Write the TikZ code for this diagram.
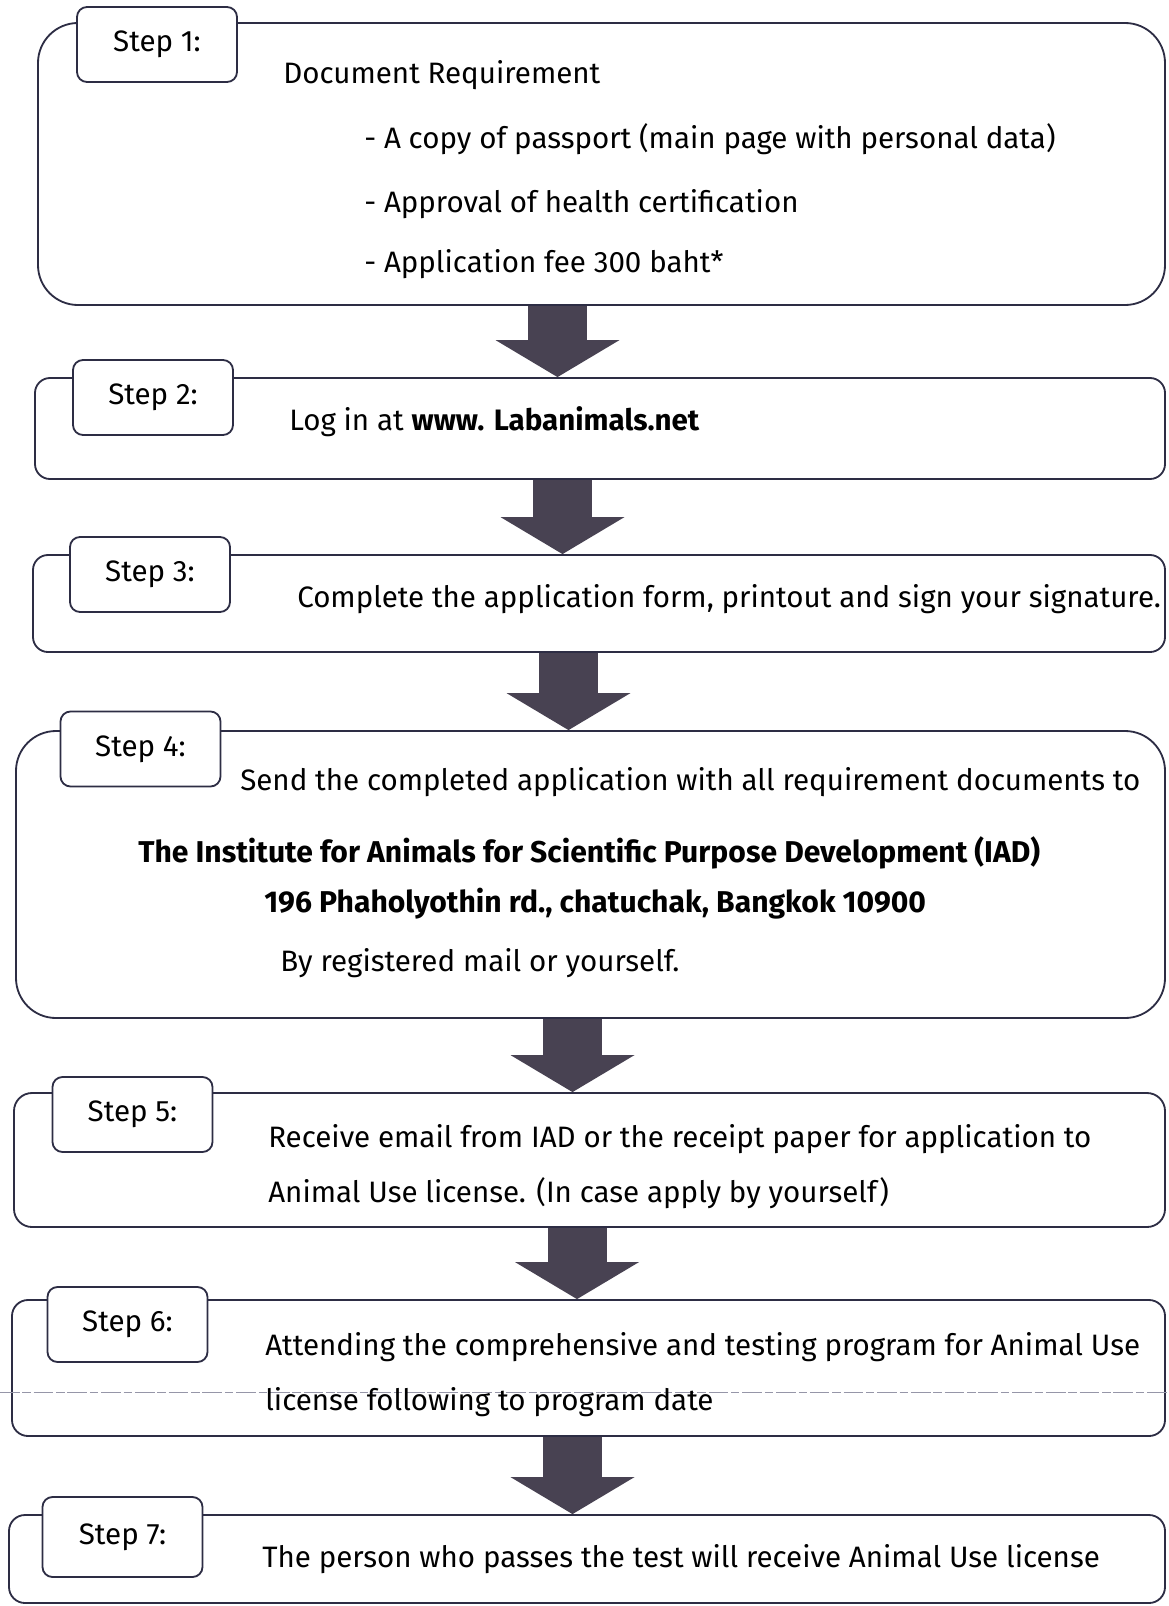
\documentclass[tikz,border=0pt]{standalone}
\usepackage{fontspec}
\setmainfont{Fira Sans}
\usepackage{xcolor}
\usetikzlibrary{arrows.meta}
\definecolor{outline}{RGB}{45,45,68}
\definecolor{flowfill}{RGB}{72,66,82}
\definecolor{foldline}{RGB}{150,150,168}
\newcommand{\flowfont}{\fontsize{21}{25}\selectfont}
\tikzstyle{panel}=[draw=outline, line width=1.3pt, inner sep=0pt]
\tikzstyle{tag}=[draw=outline, line width=1.3pt, fill=white, rounded corners=0.25cm, minimum width=4cm, minimum height=1.875cm, font=\flowfont]
\tikzset{body/.style={anchor=base west, inner sep=0pt, font=\flowfont}}
\tikzset{bodybold/.style={body, font=\fontsize{21.4}{25}\selectfont\bfseries}}
\tikzset{flow/.style={draw=flowfill, line width=1.475cm, -{Triangle[length=0.925cm, width=3.1cm, line width=0pt, fill=flowfill]}}}

\begin{document}
\begin{tikzpicture}
  \useasboundingbox (0,0) rectangle (29.2,-40.15);
  %% Panels
  \draw (15.0375,-4.1) node[panel,rounded corners=1cm,minimum width=28.175cm,minimum height=7.05cm] (b1) {};
  \draw (15.0,-10.7125) node[panel,rounded corners=0.375cm,minimum width=28.25cm,minimum height=2.525cm] (b2) {};
  \draw (14.975,-15.0875) node[panel,rounded corners=0.375cm,minimum width=28.3cm,minimum height=2.425cm] (b3) {};
  \draw (14.7625,-21.8625) node[panel,rounded corners=1cm,minimum width=28.725cm,minimum height=7.175cm] (b4) {};
  \draw (14.7375,-29.0) node[panel,rounded corners=0.45cm,minimum width=28.775cm,minimum height=3.35cm] (b5) {};
  \draw (14.7125,-34.2) node[panel,rounded corners=0.4cm,minimum width=28.825cm,minimum height=3.4cm] (b6) {};
  \draw (14.675,-38.975) node[panel,rounded corners=0.4cm,minimum width=28.9cm,minimum height=2.2cm] (b7) {};

  %% Fold mark across step 6
  \draw[foldline, line width=0.6pt, dash pattern=on 14pt off 2pt on 6pt off 2pt] (0,-34.8) -- (29.2,-34.8);

  %% Step tags
  \draw (3.925,-1.1125) node[tag] (s1) {Step 1:};
  \draw (3.825,-9.9375) node[tag] (s2) {Step 2:};
  \draw (3.75,-14.3625) node[tag] (s3) {Step 3:};
  \draw (3.5125,-18.725) node[tag] (s4) {Step 4:};
  \draw (3.3125,-27.8625) node[tag] (s5) {Step 5:};
  \draw (3.1875,-33.1125) node[tag] (s6) {Step 6:};
  \draw (3.0625,-38.425) node[tag,minimum height=2cm] (s7) {Step 7:};

  %% Texts
  \draw (7.075,-2.075) node[body] (t11) {Document Requirement};
  \draw (9.1,-3.7) node[body] (t12) {- A copy of passport (main page with personal data)};
  \draw (9.1,-5.3) node[body] (t13) {- Approval of health certification};
  \draw (9.1,-6.8) node[body] (t14) {- Application fee 300 baht*};
  \draw (7.225,-10.75) node[body] (t2) {Log in at \textbf{www. Labanimals.net}};
  \draw (7.425,-15.175) node[body] (t3) {Complete the application form, printout and sign your signature.};
  \draw (6.0,-19.75) node[body] (t41) {Send the completed application with all requirement documents to};
  \draw (3.45,-21.55) node[bodybold] (t42) {The Institute for Animals for Scientific Purpose Development (IAD)};
  \draw (6.6,-22.8) node[bodybold] (t43) {196 Phaholyothin rd., chatuchak, Bangkok 10900};
  \draw (7.0,-24.275) node[body] (t44) {By registered mail or yourself.};
  \draw (6.7,-28.675) node[body] (t51) {Receive email from IAD or the receipt paper for application to};
  \draw (6.7,-30.05) node[body] (t52) {Animal Use license. (In case apply by yourself)};
  \draw (6.625,-33.875) node[body] (t61) {Attending the comprehensive and testing program for Animal Use};
  \draw (6.625,-35.25) node[body] (t62) {license following to program date};
  \draw (6.55,-39.175) node[body] (t7) {The person who passes the test will receive Animal Use license};

  %% Arrows between steps
  \coordinate (f1) at ([xshift=-1.1cm]b1.south);
  \coordinate (f2) at ([xshift=-0.9375cm]b2.south);
  \coordinate (f3) at ([xshift=-0.7625cm]b3.south);
  \coordinate (f4) at ([xshift=-0.45cm]b4.south);
  \coordinate (f5) at ([xshift=-0.3125cm]b5.south);
  \coordinate (f6) at ([xshift=-0.4cm]b6.south);
  \draw[flow] (f1) -- (f1 |- b2.north);
  \draw[flow] (f2) -- (f2 |- b3.north);
  \draw[flow] (f3) -- (f3 |- b4.north);
  \draw[flow] (f4) -- (f4 |- b5.north);
  \draw[flow] (f5) -- (f5 |- b6.north);
  \draw[flow] (f6) -- (f6 |- b7.north);
\end{tikzpicture}
\end{document}
